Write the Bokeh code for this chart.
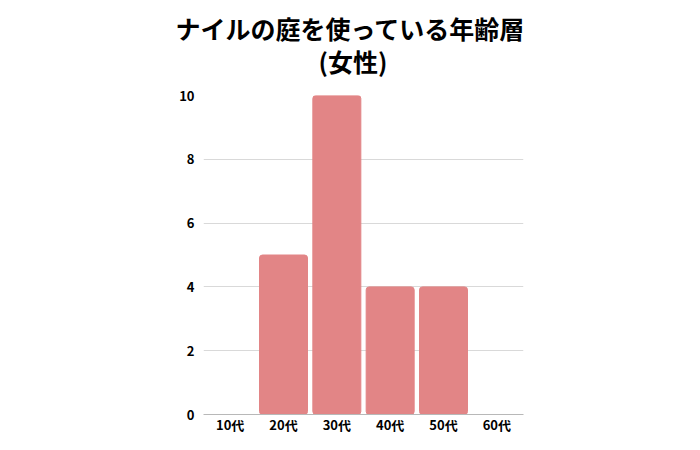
from bokeh.plotting import figure
from bokeh.models import Range1d, Title, FixedTicker
from bokeh.embed import file_html
from bokeh.resources import INLINE

categories = ["10代", "20代", "30代", "40代", "50代", "60代"]
values = [0, 5, 10, 4, 4, 0]
y_ticks = [0, 2, 4, 6, 8, 10]
title_lines = ["ナイルの庭を使っている年齢層", "(女性)"]

FONT = "Noto Sans CJK JP"
BAR = "#e28586"

p = figure(x_range=categories, y_range=Range1d(0, 10), width=700, height=450,
           output_backend="svg", toolbar_location=None,
           min_border_left=203, min_border_right=177, min_border_top=95, min_border_bottom=36)
p.outline_line_color = None
p.background_fill_color = "white"
p.border_fill_color = "white"

p.vbar(x=categories, top=values, width=0.9, color=BAR, border_radius=3)

p.xgrid.grid_line_color = None
p.ygrid.grid_line_color = "#d9d9d9"
p.ygrid.ticker = FixedTicker(ticks=y_ticks)

p.yaxis.ticker = FixedTicker(ticks=y_ticks)
p.yaxis.axis_line_color = None
p.yaxis.major_tick_line_color = None
p.yaxis.minor_tick_line_color = None
p.yaxis.major_label_text_font = FONT
p.yaxis.major_label_text_font_style = "bold"
p.yaxis.major_label_text_font_size = "13px"
p.yaxis.major_label_text_color = "black"
p.yaxis.major_label_standoff = 3

p.xaxis.axis_line_color = "#b8b8b8"
p.xaxis.major_tick_line_color = None
p.xaxis.minor_tick_line_color = None
p.xaxis.major_label_text_font = FONT
p.xaxis.major_label_text_font_style = "bold"
p.xaxis.major_label_text_font_size = "13px"
p.xaxis.major_label_text_color = "black"
p.xaxis.major_label_standoff = -6

p.title.text = title_lines[0]
p.title.text_font = FONT
p.title.text_font_style = "bold"
p.title.text_font_size = "25px"
p.title.text_color = "black"
p.title.align = "left"
p.title.offset = -28
p.title.standoff = -42

t2 = Title(text=title_lines[1], text_font=FONT, text_font_style="bold",
           text_font_size="25px", text_color="black", align="left", offset=115, standoff=33)
p.add_layout(t2, "above")

open("out.html", "w").write(file_html(p, INLINE))
